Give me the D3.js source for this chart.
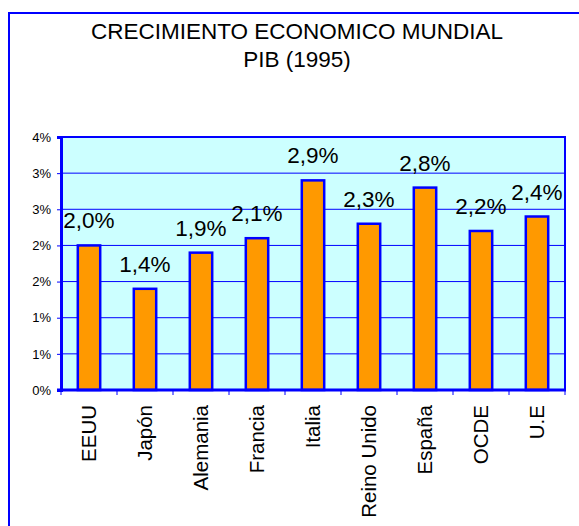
<!DOCTYPE html>
<html>
<head>
<meta charset="utf-8">
<script src="https://cdn.jsdelivr.net/npm/d3@7"></script>
<style>
  body { margin: 0; background: #fff; }
  svg { display: block; font-family: Arial, "Liberation Sans", sans-serif; }
</style>
</head>
<body>
<svg id="chart"></svg>
<script>
// chart data
let categories = ["EEUU", "Japón", "Alemania", "Francia", "Italia", "Reino Unido", "España", "OCDE", "U.E"]
let values = [2.0, 1.4, 1.9, 2.1, 2.9, 2.3, 2.8, 2.2, 2.4]
let yTicks = [0, 0.5, 1, 1.5, 2, 2.5, 3, 3.5]
let titleLines = ["CRECIMIENTO ECONOMICO MUNDIAL", "PIB (1995)"]

let width = 579
let height = 526
let blue = "#0000ff"

let svg = d3.select("#chart")
    .attr("width", width)
    .attr("height", height)

// outer chart frame (runs off the right and bottom edges)
svg.append("rect")
    .attr("x", 9).attr("y", 13)
    .attr("width", 700).attr("height", 700)
    .attr("fill", "none")
    .attr("stroke", blue)
    .attr("stroke-width", 2)

// title
svg.selectAll(".title")
    .data(titleLines)
    .enter()
    .append("text")
    .attr("class", "title")
    .attr("x", 297)
    .attr("y", (d, i) => 39 + i * 28)
    .attr("text-anchor", "middle")
    .style("font-size", "22.5px")
    .text(d => d)

// plot area
let plot = { left: 61, top: 137, right: 565, bottom: 390 }

let x = d3.scaleBand()
    .domain(categories)
    .range([plot.left, plot.right])
    .paddingInner(0.6)
    .paddingOuter(0.3)

let xb = d3.scaleBand()
    .domain(categories)
    .range([plot.left, plot.right])

let y = d3.scaleLinear()
    .domain([0, 3.5])
    .range([plot.bottom, plot.top])

let g = svg.append("g")

g.append("rect")
    .attr("x", plot.left).attr("y", plot.top)
    .attr("width", plot.right - plot.left)
    .attr("height", plot.bottom - plot.top)
    .attr("fill", "#ccffff")

// gridlines
g.selectAll(".grid")
    .data(yTicks.slice(1))
    .enter()
    .append("line")
    .attr("x1", plot.left).attr("x2", plot.right)
    .attr("y1", d => y(d)).attr("y2", d => y(d))
    .attr("stroke", blue)
    .attr("stroke-width", 1)

// plot border (top + right)
g.append("path")
    .attr("d", "M" + plot.left + "," + plot.top + "H" + plot.right + "V" + plot.bottom)
    .attr("fill", "none")
    .attr("stroke", blue)
    .attr("stroke-width", 2)

// bars
g.selectAll(".bar")
    .data(values)
    .enter()
    .append("rect")
    .attr("x", (d, i) => x(categories[i]))
    .attr("y", d => y(d))
    .attr("width", x.bandwidth())
    .attr("height", d => y(0) - y(d))
    .attr("fill", "#ff9900")
    .attr("stroke", blue)
    .attr("stroke-width", 2.5)

// data labels
g.selectAll(".lbl")
    .data(values)
    .enter()
    .append("text")
    .attr("x", (d, i) => x(categories[i]) + x.bandwidth() / 2)
    .attr("y", d => y(d) - 17)
    .attr("text-anchor", "middle")
    .style("font-size", "22.5px")
    .text(d => d.toFixed(1).replace(".", ",") + "%")

// y axis
let yAxis = g.append("g")
    .attr("transform", "translate(" + plot.left + ",0)")
    .call(d3.axisLeft(y).tickValues(yTicks).tickSize(4).tickPadding(6)
        .tickFormat(d => Math.round(d + 1e-9) + "%"))
yAxis.select(".domain").attr("stroke", blue).attr("stroke-width", 3)
yAxis.selectAll(".tick line").attr("stroke", blue)
yAxis.selectAll("text").style("font-size", "13px").attr("fill", "#000")

// x axis: ticks on category boundaries
let xAxis = g.append("g")
    .attr("transform", "translate(0," + plot.bottom + ")")
xAxis.append("line")
    .attr("x1", plot.left - 4).attr("x2", plot.right + 1)
    .attr("stroke", blue).attr("stroke-width", 3)
xAxis.selectAll(".xt")
    .data(categories.concat(["end"]))
    .enter()
    .append("line")
    .attr("x1", (d, i) => i < categories.length ? xb(d) : plot.right)
    .attr("x2", (d, i) => i < categories.length ? xb(d) : plot.right)
    .attr("y1", 0).attr("y2", 5)
    .attr("stroke", blue)
xAxis.selectAll(".xl")
    .data(categories)
    .enter()
    .append("text")
    .attr("transform", d => "translate(" + (xb(d) + xb.bandwidth() / 2 + 7) + ",15) rotate(-90)")
    .attr("text-anchor", "end")
    .style("font-size", "20.5px")
    .text(d => d)
</script>
</body>
</html>
